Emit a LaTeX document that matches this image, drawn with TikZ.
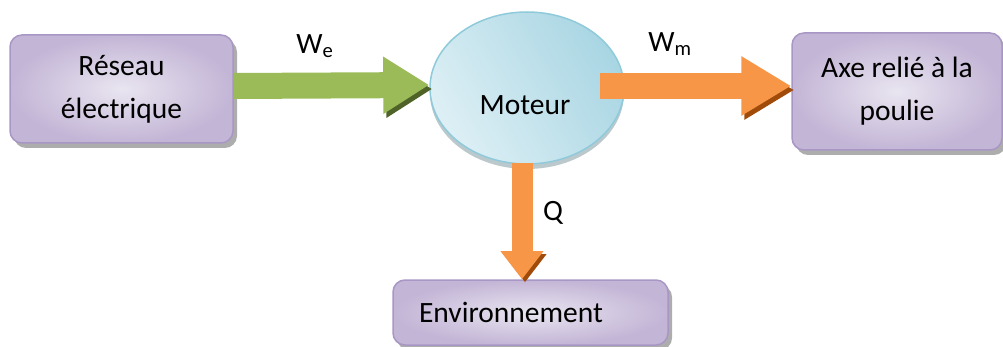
\documentclass[tikz,border=0pt]{standalone}
\usepackage{fontspec}
\setmainfont{Carlito}
\usetikzlibrary{positioning, arrows.meta, shapes.geometric, shadows}

\definecolor{lilac}{HTML}{C3B5D6}
\definecolor{lilaclight}{HTML}{E9E5F0}
\definecolor{lilacline}{HTML}{A897C4}
\definecolor{skyblue}{HTML}{A9D6E3}
\definecolor{skylight}{HTML}{DDEFF5}
\definecolor{skyline}{HTML}{8FCADB}
\definecolor{leaf}{HTML}{9BBB59}
\definecolor{leafdark}{HTML}{4F6228}
\definecolor{tangerine}{HTML}{F79646}
\definecolor{tangerinedark}{HTML}{A04B0A}

\begin{document}
\begin{tikzpicture}[x=1pt, y=-1pt, font=\fontsize{29.5}{43}\selectfont,
    block/.style={rectangle, rounded corners=12pt, draw=lilacline, line width=1.5pt,
        inner color=lilaclight, outer color=lilac, align=center,
        drop shadow={shadow xshift=4pt, shadow yshift=-5pt, fill=black!40, opacity=0.8}},
    flux/.style={line width=26pt}]
        \useasboundingbox (0,0) rectangle (1003,347);

        \node[block, minimum width=223pt, minimum height=108pt] (reseau) at (121.5,89) {Réseau\\électrique};
        \node[block, minimum width=210pt, minimum height=117pt] (axe) at (897,91.5) {Axe relié à la\\poulie};
        \node[block, minimum width=275pt, minimum height=65pt, text width=223pt, inner xsep=26pt, align=left] (env) at (530.5,312.5) {Environnement};

        \node[ellipse, draw=skyline, line width=1.5pt, minimum width=194pt, minimum height=152pt,
            left color=skylight, right color=skyblue, shading angle=120,
            drop shadow={shadow xshift=0pt, shadow yshift=-5pt, fill=skyline!60!black!50, opacity=0.8}] (moteur) at (527,88) {};
        \node (moteurtxt) at (525,105) {Moteur};

        % fleches
        \draw[flux, leaf, -{Triangle[length=46pt, width=54pt]},
            preaction={draw=leafdark, transform canvas={shift={(3pt,-4pt)}}}]
            ([yshift=3pt]reseau.east) -- ([yshift=3pt]moteur.west);

        \coordinate (wmstart) at ([xshift=-25pt, yshift=2pt]moteur.east);
        \draw[flux, tangerine, -{Triangle[length=50pt, width=56pt]},
            preaction={draw=tangerinedark, transform canvas={shift={(3pt,-4pt)}}}]
            (wmstart) -- (wmstart -| axe.west);

        \coordinate (qstart) at ([xshift=-5pt, yshift=2pt]moteur.south);
        \draw[flux, line width=21pt, tangerine, -{Triangle[length=28pt, width=41pt]},
            preaction={draw=tangerinedark, transform canvas={shift={(3pt,-3pt)}}}]
            (qstart) -- (qstart |- env.north);

        \node (lwe) at (315,46) {W\textsubscript{e}};
        \node (lwm) at (670,44) {W\textsubscript{m}};
        \node (lq) at (553,213) {Q};
    \end{tikzpicture}
\end{document}
